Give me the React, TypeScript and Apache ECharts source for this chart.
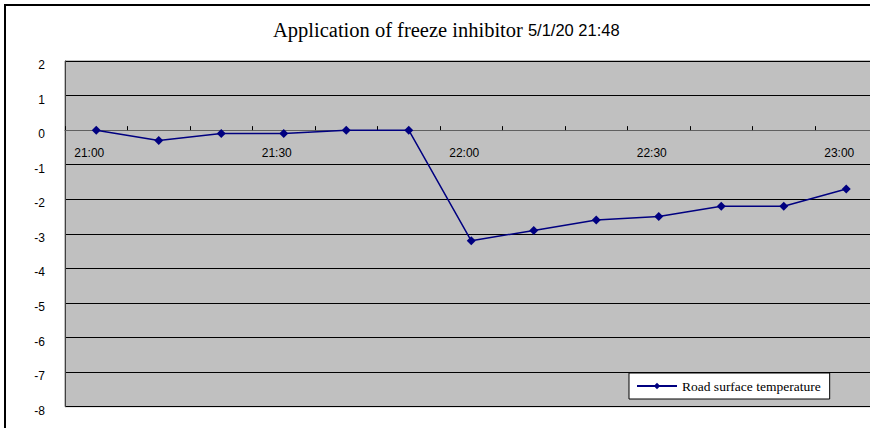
import React, { useEffect, useRef } from "react";
import * as echarts from "echarts";

const categories = ["21:00","21:10","21:20","21:30","21:40","21:50","22:00","22:10","22:20","22:30","22:40","22:50","23:00"];
const roadTemp = [0, -0.3, -0.1, -0.1, 0, 0, -3.2, -2.9, -2.6, -2.5, -2.2, -2.2, -1.7];
const seriesName = "Road surface temperature";
const titleMain = "Application of freeze inhibitor";
const titleDate = "5/1/20 21:48";

export default function App() {
  const ref = useRef<HTMLDivElement>(null);
  useEffect(() => {
    if (!ref.current) return;
    const chart = echarts.init(ref.current, null, { renderer: "svg" });
    const gridTop = 61;
    const gridHeight = 345.7;
    const yMin = -8;
    const yMax = 2;
    const zeroOffset = gridHeight * (0 - yMin) / (yMax - yMin);
    chart.setOption({
      animation: false,
      backgroundColor: "#ffffff",
      title: {
        text: `{a|${titleMain}} {b|${titleDate}}`,
        left: 268,
        top: 14,
        textStyle: {
          fontWeight: "normal",
          rich: {
            a: { fontFamily: "Liberation Serif", fontSize: 20.5, fontWeight: "normal", color: "#000" },
            b: { fontFamily: "Liberation Sans", fontSize: 16.5, fontWeight: "normal", color: "#000" },
          },
        },
      },
      graphic: [
        {
          type: "line",
          shape: { x1: 5, y1: 5, x2: 910, y2: 5 },
          style: { stroke: "#000", lineWidth: 2 },
          silent: true,
          z: 100,
        },
        {
          type: "line",
          shape: { x1: 5, y1: 4, x2: 5, y2: 440 },
          style: { stroke: "#000", lineWidth: 2 },
          silent: true,
          z: 100,
        },
      ],
      legend: {
        left: 629,
        top: 373,
        orient: "horizontal",
        backgroundColor: "#ffffff",
        borderColor: "#000",
        borderWidth: 1,
        borderRadius: 0,
        padding: [6, 9, 6, 7],
        itemWidth: 40,
        itemHeight: 8,
        itemGap: 5,
        textStyle: { fontFamily: "Liberation Serif", fontSize: 13.5, color: "#000" },
        data: [seriesName],
      },
      grid: {
        left: 65,
        top: gridTop,
        width: 812.5,
        height: gridHeight,
        outerBoundsMode: "none",
        containLabel: false,
        show: true,
        backgroundColor: "#c0c0c0",
        borderColor: "#808080",
        borderWidth: 1,
      },
      xAxis: {
        type: "category",
        data: categories,
        boundaryGap: true,
        position: "bottom",
        offset: -zeroOffset,
        axisLine: { onZero: false, lineStyle: { color: "#606060", width: 1 } },
        axisTick: { show: true, inside: true, length: 4, interval: 0, lineStyle: { color: "#000" } },
        axisLabel: {
          interval: 2,
          margin: 17,
          padding: [0, 14, 0, 0],
          fontFamily: "Liberation Sans",
          fontSize: 12,
          color: "#000",
        },
        splitLine: { show: false },
      },
      yAxis: {
        type: "value",
        min: yMin,
        max: yMax,
        interval: 1,
        axisLine: { show: true, lineStyle: { color: "#404040", width: 1 } },
        axisTick: { show: false },
        axisLabel: {
          margin: 20,
          verticalAlign: "top",
          lineHeight: 8,
          fontFamily: "Liberation Sans",
          fontSize: 12,
          color: "#000",
        },
        splitLine: { show: true, lineStyle: { color: "#000", width: 1 } },
      },
      series: [
        {
          name: seriesName,
          type: "line",
          data: roadTemp,
          symbol: "diamond",
          symbolSize: 9,
          lineStyle: { color: "#000080", width: 1.5 },
          itemStyle: { color: "#000080" },
        },
      ],
    });
    return () => chart.dispose();
  }, []);
  return (
    <div style={{ position: "fixed", left: 0, top: 0, width: 870, height: 428, overflow: "hidden" }}>
      <div ref={ref} style={{ width: 910, height: 428 }} />
    </div>
  );
}
